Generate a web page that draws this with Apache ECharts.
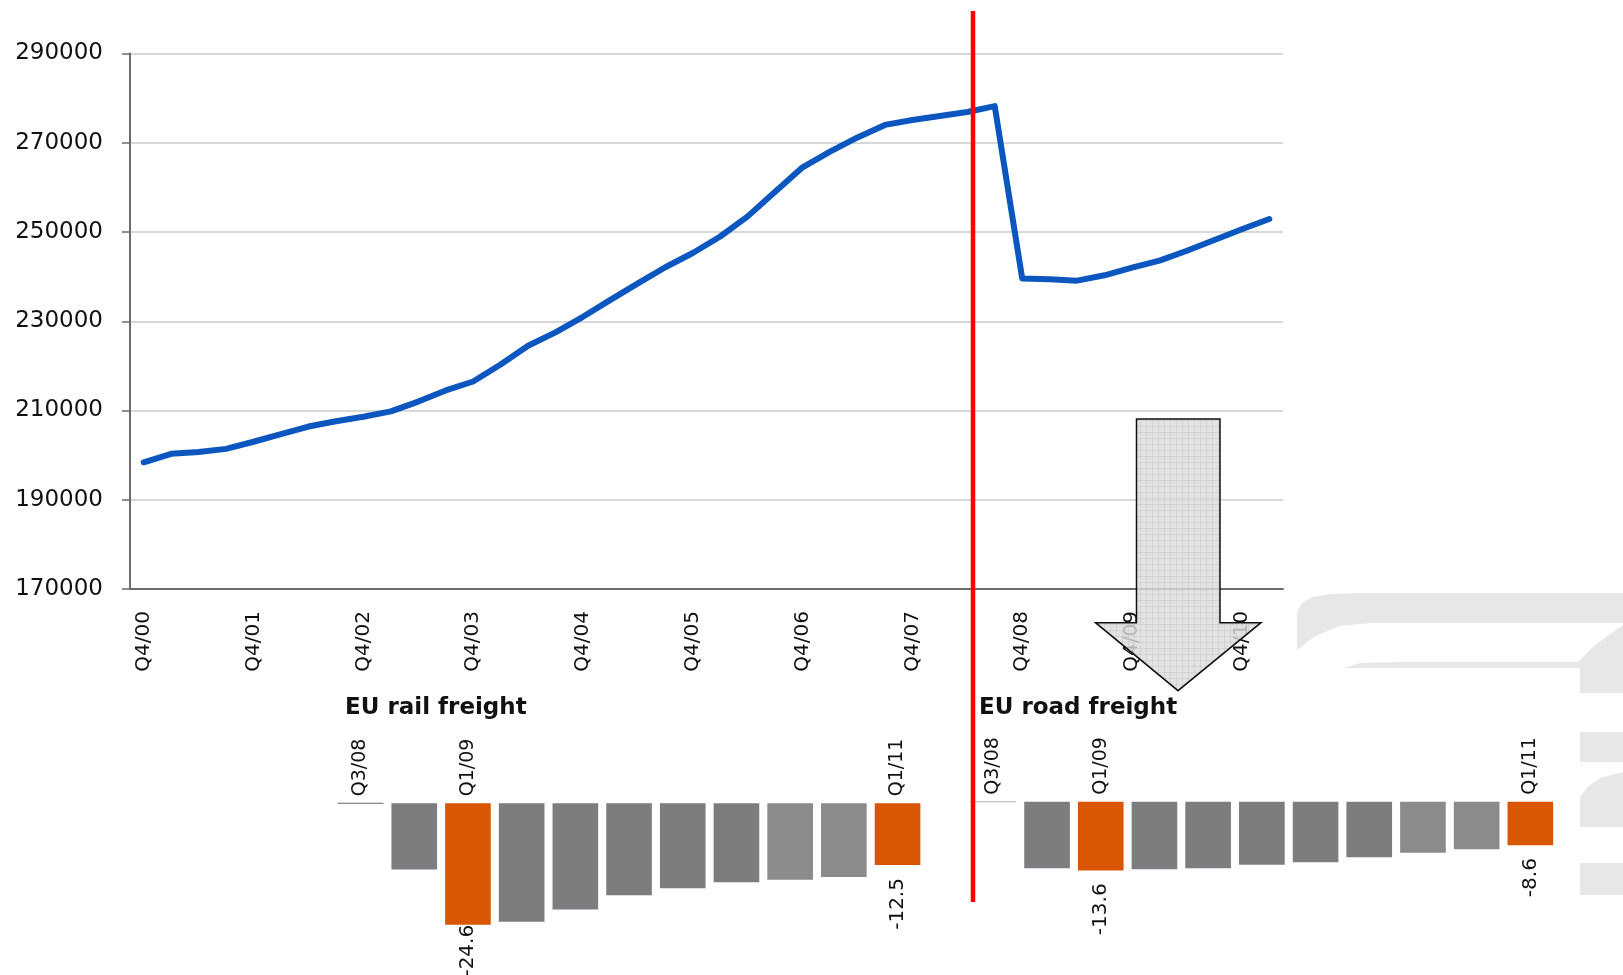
<!DOCTYPE html>
<html>
<head>
<meta charset="utf-8">
<title>EU freight</title>
<script src="https://cdn.jsdelivr.net/npm/echarts@6/dist/echarts.min.js"></script>
<style>
  html, body { margin: 0; padding: 0; background: #fff; }
  #chart { width: 1623px; height: 975px; }
</style>
</head>
<body>
<div id="chart"></div>
<script>
// quarterly index, Q4/00 .. Q1/11
var quarters = [
  "Q4/00",
  "Q1/01", "Q2/01", "Q3/01", "Q4/01",
  "Q1/02", "Q2/02", "Q3/02", "Q4/02",
  "Q1/03", "Q2/03", "Q3/03", "Q4/03",
  "Q1/04", "Q2/04", "Q3/04", "Q4/04",
  "Q1/05", "Q2/05", "Q3/05", "Q4/05",
  "Q1/06", "Q2/06", "Q3/06", "Q4/06",
  "Q1/07", "Q2/07", "Q3/07", "Q4/07",
  "Q1/08", "Q2/08", "Q3/08", "Q4/08",
  "Q1/09", "Q2/09", "Q3/09", "Q4/09",
  "Q1/10", "Q2/10", "Q3/10", "Q4/10",
  "Q1/11"
];
var freight = [
  198400,
  200300, 200700, 201400, 203000,
  204700, 206400, 207600, 208600,
  209800, 212000, 214500, 216500,
  220300, 224500, 227500, 231000,
  234800, 238500, 242100, 245300,
  249000, 253500, 259000, 264500,
  268000, 271200, 274000, 275100,
  276000, 276900, 278200, 239600,
  239400, 239100, 240300, 242000,
  243600, 245800, 248200, 250600,
  252900
];
var yMin = 170000, yMax = 290000, yStep = 20000;

// change since Q3/08 (%)
var barQuarters = ["Q3/08", "Q4/08", "Q1/09", "Q2/09", "Q3/09", "Q4/09", "Q1/10", "Q2/10", "Q3/10", "Q4/10", "Q1/11"];
var barTags = ["Q3/08", "Q1/09", "Q1/11"];
var railChange = [0, -13.4, -24.6, -24.0, -21.5, -18.6, -17.2, -16.0, -15.5, -14.9, -12.5];
var roadChange = [0, -13.2, -13.6, -13.4, -13.2, -12.5, -12.0, -11.0, -10.1, -9.4, -8.6];

var FONT = "DejaVu Sans";
var hot = ["Q1/09", "Q1/11"];

function barColor(i) {
  if (hot.indexOf(barQuarters[i]) >= 0) return "#d95604";
  if (i >= 8) return "#8b8b8b";
  return "#7b7d7f";
}

function barData(vals, zeroColor, tightIdx) {
  return vals.map(function (v, i) {
    var item = { value: v, itemStyle: { color: barColor(i) } };
    if (v === 0) item.itemStyle = { color: zeroColor, borderColor: zeroColor, borderWidth: 1 };
    if (i === tightIdx) item.label = { distance: 0 };
    return item;
  });
}

function barSeries(idx, vals, zeroColor, tightIdx) {
  return {
    type: "bar",
    xAxisIndex: idx,
    yAxisIndex: idx,
    barCategoryGap: "15%",
    data: barData(vals, zeroColor, tightIdx),
    label: {
      show: true,
      position: "bottom",
      distance: 13,
      rotate: 90,
      align: "right",
      verticalAlign: "middle",
      fontFamily: FONT,
      fontSize: 20,
      color: "#111",
      formatter: function (p) {
        return hot.indexOf(barQuarters[p.dataIndex]) >= 0 ? p.value.toFixed(1) : "";
      }
    }
  };
}

function barXAxis(idx) {
  return {
    type: "category",
    gridIndex: idx,
    position: "top",
    data: barQuarters,
    axisLine: { show: false },
    axisTick: { show: false },
    axisLabel: {
      interval: 0,
      rotate: 90,
      margin: 7,
      fontFamily: FONT,
      fontSize: 19,
      color: "#111",
      formatter: function (v) { return barTags.indexOf(v) >= 0 ? v : ""; }
    }
  };
}

function barYAxis(idx) {
  return { type: "value", gridIndex: idx, min: -30, max: 0, show: false };
}

function mark(points) {
  return { type: "polygon", z: -10, silent: true, shape: { points: points }, style: { fill: "#e6e7e6" } };
}

// dotted grey fill of the arrow
function arrowPattern() {
  var c = document.createElement("canvas");
  c.width = 6; c.height = 6;
  var g = c.getContext("2d");
  g.fillStyle = "rgba(220,220,220,0.8)";
  g.fillRect(0, 0, 6, 6);
  g.fillStyle = "rgba(195,195,195,0.5)";
  g.fillRect(0, 0, 6, 1);
  g.fillRect(0, 0, 1, 6);
  return c;
}

var chart = echarts.init(document.getElementById("chart"));

chart.setOption({
  animation: false,
  backgroundColor: "#fff",
  title: [
    { text: "EU rail freight", left: 345, top: 697, padding: 0,
      textStyle: { fontFamily: FONT, fontSize: 23, fontWeight: "bold", color: "#111" } },
    { text: "EU road freight", left: 979, top: 697, padding: 0,
      textStyle: { fontFamily: FONT, fontSize: 23, fontWeight: "bold", color: "#111" } }
  ],
  grid: [
    { left: 130, top: 53.5, width: 1153, height: 535.5 },
    { left: 333.7, top: 803.3, width: 590.7, height: 148.2 },
    { left: 966.5, top: 801.7, width: 590.7, height: 151.5 }
  ],
  xAxis: [
    {
      type: "category",
      gridIndex: 0,
      data: quarters,
      boundaryGap: true,
      axisLine: { lineStyle: { color: "#6b6b6b", width: 2 } },
      axisTick: { interval: 3, length: 7, lineStyle: { color: "#6b6b6b", width: 1.5 } },
      axisLabel: {
        interval: 3,
        rotate: 90,
        margin: 22,
        fontFamily: FONT,
        fontSize: 20,
        color: "#111"
      }
    },
    barXAxis(1),
    barXAxis(2)
  ],
  yAxis: [
    {
      type: "value",
      gridIndex: 0,
      min: yMin,
      max: yMax,
      interval: yStep,
      axisLine: { show: true, lineStyle: { color: "#6b6b6b", width: 2 } },
      axisTick: { show: true, length: 8, lineStyle: { color: "#6b6b6b", width: 1.5 } },
      splitLine: { lineStyle: { color: "#c9ccc9", width: 1.5 } },
      axisLabel: {
        margin: 27, fontFamily: FONT, fontSize: 23, color: "#111",
        formatter: function (v) { return String(v); }
      }
    },
    barYAxis(1),
    barYAxis(2)
  ],
  series: [
    {
      type: "line",
      xAxisIndex: 0,
      yAxisIndex: 0,
      data: freight,
      symbol: "none",
      lineStyle: { color: "#0b57bf", width: 6, join: "round", cap: "round" },
      z: 3
    },
    barSeries(1, railChange, "#8a8a8a", 2),
    barSeries(2, roadChange, "#c4c4c4", -1)
  ],
  graphic: [
    // watermark in the corner
    mark([[1297, 650], [1297, 612], [1302, 603], [1312, 597], [1330, 594], [1360, 593], [1623, 593],
          [1623, 623], [1370, 623], [1340, 626], [1315, 636]]),
    mark([[1345, 668], [1360, 663], [1400, 662], [1578, 662], [1595, 645], [1623, 625],
          [1623, 693], [1580, 693], [1580, 668]]),
    mark([[1580, 732], [1623, 732], [1623, 762], [1580, 762]]),
    mark([[1623, 772], [1600, 778], [1588, 787], [1580, 797], [1580, 827], [1623, 827]]),
    mark([[1580, 863], [1623, 863], [1623, 895], [1580, 895]]),
    // red separator
    { type: "line", z: 50, silent: true,
      shape: { x1: 973, y1: 11, x2: 973, y2: 902 },
      style: { stroke: "#ff0000", lineWidth: 4.5 } },
    // down arrow
    { type: "polygon", z: 40, silent: true,
      shape: { points: [[1136.5, 419], [1220, 419], [1220, 622.7], [1261, 622.7], [1178, 690.7], [1095.5, 622.7], [1136.5, 622.7]] },
      style: { fill: { image: arrowPattern(), repeat: "repeat" }, stroke: "#111", lineWidth: 1.5 } }
  ]
});
</script>
</body>
</html>
